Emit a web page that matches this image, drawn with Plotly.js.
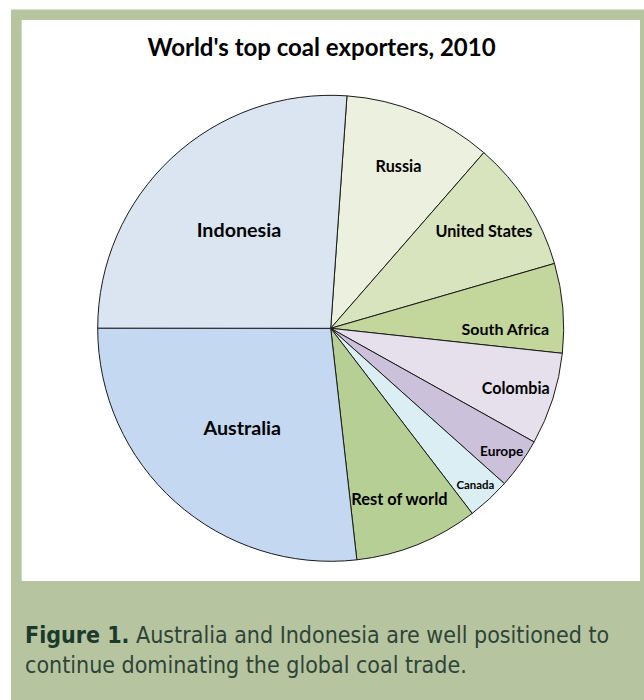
<!DOCTYPE html>
<html>
<head>
<meta charset="utf-8">
<script src="https://cdn.plot.ly/plotly-3.0.1.min.js"></script>
<style>
  html, body { margin: 0; padding: 0; background: #ffffff; }
  #chart { width: 644px; height: 700px; }
</style>
</head>
<body>
<div id="chart"></div>
<script>
// ---- data (share of world coal exports, %) ----
const exporters = ['Russia', 'United States', 'South Africa', 'Colombia', 'Europe', 'Canada', 'Rest of world', 'Australia', 'Indonesia'];
const shares    = [10.3, 9.1, 6.2, 6.4, 3.5, 3.0, 8.6, 26.8, 26.1];
const chartTitle = "World's top coal exporters, 2010";
const captionBold = 'Figure 1.';
const captionText = ' Australia and Indonesia are well positioned to<br>continue dominating the global coal trade.';

// ---- styles ----
const sliceColors = ['#ebf1de', '#d7e4bd', '#c3d69b', '#e6e0ec', '#ccc1da', '#daeef3', '#b6cf95', '#c4d9f1', '#dae5f1'];
const labelSizes  = [16.2, 16.2, 16, 16.1, 15.5, 14.5, 16.4, 19.7, 19.7];

const W = 644, H = 700;
const px = x => x / W;
const py = y => 1 - y / H;

const cx = 330.7, cy = 328.3, R = 233;

const trace = {
  type: 'pie',
  labels: exporters,
  values: shares,
  sort: false,
  direction: 'clockwise',
  rotation: 4,
  marker: { colors: sliceColors, line: { color: '#1a1a1a', width: 1 } },
  textinfo: 'label',
  textposition: 'inside',
  insidetextorientation: 'horizontal',
  textfont: { family: 'Lato, "Open Sans", sans-serif', weight: 'bold', size: labelSizes, color: '#000000' },
  hoverinfo: 'none',
  showlegend: false,
  domain: { x: [px(cx - R), px(cx + R)], y: [py(cy + R), py(cy - R)] }
};

const layout = {
  width: W, height: H,
  margin: { l: 0, r: 0, t: 0, b: 0, pad: 0 },
  paper_bgcolor: '#ffffff',
  showlegend: false,
  title: {
    text: chartTitle,
    font: { family: 'Lato, "Open Sans", sans-serif', weight: 'bold', size: 24, color: '#000000' },
    x: px(321.5), xanchor: 'center', xref: 'paper',
    y: py(47.5), yanchor: 'middle', yref: 'paper'
  },
  shapes: [
    { type: 'rect', xref: 'paper', yref: 'paper', layer: 'below',
      x0: px(11), x1: px(644), y0: py(700), y1: py(9.5),
      fillcolor: '#b6c59f', line: { width: 0 } },
    { type: 'rect', xref: 'paper', yref: 'paper', layer: 'below',
      x0: px(21.7), x1: px(640), y0: py(581), y1: py(20),
      fillcolor: '#ffffff', line: { width: 0 } }
  ],
  annotations: [
    {
      xref: 'paper', yref: 'paper', x: px(23), y: py(620), xanchor: 'left', yanchor: 'top',
      align: 'left', showarrow: false,
      text: '<span style="font-weight:bold;color:#1b3a2c">' + captionBold + '</span><span style="color:#2e4337">' + captionText + '</span>',
      font: { family: '"Liberation Sans Narrow", "DejaVu Sans Condensed", "Roboto Condensed", sans-serif', size: 23, color: '#2e4337' }
    }
  ]
};

Plotly.newPlot('chart', [trace], layout, { displayModeBar: false, staticPlot: true });
</script>
</body>
</html>
